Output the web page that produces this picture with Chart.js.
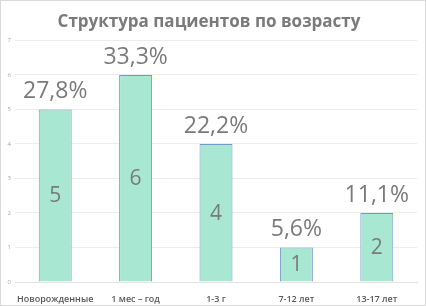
<!DOCTYPE html>
<html>
<head>
<meta charset="utf-8">
<script src="https://cdn.jsdelivr.net/npm/chart.js@4"></script>
<style>
  html, body { margin: 0; padding: 0; background: #fff; }
  #wrap { width: 424px; height: 304px; border: 1px solid #d9d9d9; position: relative; }
</style>
</head>
<body>
<div id="wrap"><canvas id="myChart" width="424" height="304"></canvas></div>
<script>
const categories = ['Новорожденные', '1 мес – год', '1-3 г', '7-12 лет', '13-17 лет'];
const counts = [5, 6, 4, 1, 2];
const percents = ['27,8%', '33,3%', '22,2%', '5,6%', '11,1%'];
const titleText = 'Структура пациентов по возрасту';

// labels: percent above each bar, count in the middle
const barLabels = {
  id: 'barLabels',
  afterDatasetsDraw(chart) {
    const ctx = chart.ctx;
    const meta = chart.getDatasetMeta(0);
    ctx.save();
    ctx.fillStyle = '#7a7a7a';
    ctx.textAlign = 'center';
    meta.data.forEach((bar, i) => {
      ctx.font = '23px "Open Sans"';
      ctx.textBaseline = 'alphabetic';
      ctx.fillText(percents[i], bar.x, bar.y - 11);
      ctx.font = '21px "Open Sans"';
      ctx.textBaseline = 'middle';
      ctx.fillText(String(counts[i]), bar.x, (bar.y + bar.base) / 2 + 1);
    });
    ctx.restore();
  }
};

const config = {
  type: 'bar',
  data: {
    labels: categories,
    datasets: [{
      label: 'Пациенты',
      data: counts,
      backgroundColor: '#a8e8d3',
      borderColor: '#7598c6',
      borderWidth: 1,
      barPercentage: 0.41,
      categoryPercentage: 1,
    }],
  },
  options: {
    responsive: false,
    animation: false,
    layout: { padding: { left: 0, right: 8, top: 0, bottom: 0 } },
    plugins: {
      legend: { display: false },
      tooltip: { enabled: false },
      title: {
        display: true,
        text: titleText,
        color: '#7a7a7a',
        font: { family: 'Open Sans', size: 17, weight: 'bold' },
        padding: { top: 11, bottom: 8 },
      },
    },
    scales: {
      x: {
        grid: { display: false },
        border: { color: '#e3e3e3' },
        ticks: {
          color: '#595959',
          font: { family: 'Open Sans', size: 9, weight: '600' },
          padding: 4,
          maxRotation: 0,
          minRotation: 0,
          autoSkip: false,
        },
        afterFit(scale) { scale.height = 23; },
      },
      y: {
        min: 0,
        max: 7,
        ticks: { stepSize: 1, color: '#a6a6a6', font: { family: 'Open Sans', size: 6 }, padding: 4 },
        grid: { color: '#ececec', drawTicks: false },
        border: { display: false },
        afterFit(scale) { scale.width = 14; },
      },
    },
  },
  plugins: [barLabels],
};

var myChart = new Chart(document.getElementById('myChart'), config);
</script>
</body>
</html>
